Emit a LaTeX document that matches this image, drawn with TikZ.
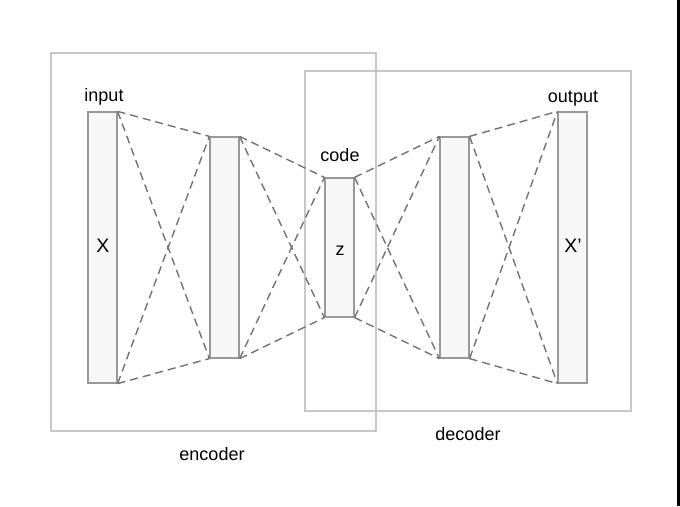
\documentclass[tikz,border=0pt]{standalone}
\usepackage{fontspec}
\setmainfont{Liberation Sans}
\begin{document}
\begin{tikzpicture}[x=1pt,y=-1pt,
  frame/.style={draw=black!22,line width=1.2pt},
  bar/.style={draw=black!40,fill=black!3,line width=1.2pt,minimum width=29pt,inner sep=0pt},
  link/.style={draw=black!55,dashed,dash pattern=on 8pt off 5pt,line width=1.4pt},
  lbl/.style={font=\fontsize{18}{21}\selectfont,inner sep=0pt}]
\useasboundingbox (0,0) rectangle (680,506);
\fill[white] (0,0) rectangle (680,506);
\fill[black] (677,0) rectangle (680,506);
% boxes
\draw[frame] (51,53) rectangle (376,431);
\draw[frame] (305,71) rectangle (631,411);
% bars
\node[bar,minimum height=271pt] (in) at (102.5,247.5) {};
\node[bar,minimum height=221pt] (h1) at (224.5,247.5) {};
\node[bar,minimum height=139pt] (cd) at (339.5,247.5) {};
\node[bar,minimum height=221pt] (h2) at (454.5,247.5) {};
\node[bar,minimum height=271pt] (out) at (572.5,247.5) {};
% links
\foreach \a/\b in {in/h1,h1/cd,cd/h2,h2/out}{
  \draw[link] (\a.north east) -- (\b.north west);
  \draw[link] (\a.north east) -- (\b.south west);
  \draw[link] (\a.south east) -- (\b.north west);
  \draw[link] (\a.south east) -- (\b.south west);
}
% labels
\node[lbl] (tin) at (104,97) {input};
\node[lbl,font=\fontsize{19.5}{22}\selectfont] (tx) at (103,246) {X};
\node[lbl] (tcode) at (340,155) {code};
\node[lbl] (tz) at (340,251) {z};
\node[lbl] (tout) at (573,99) {output};
\node[lbl,font=\fontsize{19.5}{22}\selectfont] (txp) at (573,246) {X’};
\node[lbl] (tenc) at (212,454) {encoder};
\node[lbl] (tdec) at (468,434) {decoder};
\end{tikzpicture}
\end{document}
